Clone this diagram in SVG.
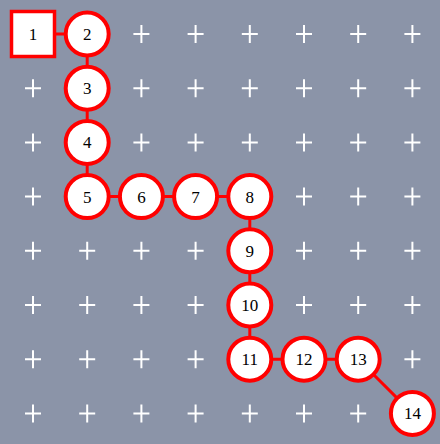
<svg xmlns="http://www.w3.org/2000/svg" width="440" height="444" viewBox="0 0 440 444">
<style>
.n circle{fill:#fff;stroke:#f00;stroke-width:4}
.n rect{fill:#fff;stroke:#f00;stroke-width:3.5}
.n text{font-family:"Liberation Serif",serif;font-size:17px;fill:#000;text-anchor:middle}
.e line{stroke:#f00;stroke-width:3}
</style>
<defs>
<path id="plus" d="M-8 0H8M0 -9V9" stroke="#fff" stroke-width="2" fill="none"/>
</defs>
<rect x="0" y="0" width="440" height="444" fill="#8b94a8"/>
<g id="grid">
<use href="#plus" x="141.4" y="34"/><use href="#plus" x="195.6" y="34"/><use href="#plus" x="249.8" y="34"/><use href="#plus" x="304" y="34"/><use href="#plus" x="358.2" y="34"/><use href="#plus" x="412.4" y="34"/>
<use href="#plus" x="33" y="88.2"/><use href="#plus" x="141.4" y="88.2"/><use href="#plus" x="195.6" y="88.2"/><use href="#plus" x="249.8" y="88.2"/><use href="#plus" x="304" y="88.2"/><use href="#plus" x="358.2" y="88.2"/><use href="#plus" x="412.4" y="88.2"/>
<use href="#plus" x="33" y="142.4"/><use href="#plus" x="141.4" y="142.4"/><use href="#plus" x="195.6" y="142.4"/><use href="#plus" x="249.8" y="142.4"/><use href="#plus" x="304" y="142.4"/><use href="#plus" x="358.2" y="142.4"/><use href="#plus" x="412.4" y="142.4"/>
<use href="#plus" x="33" y="196.6"/><use href="#plus" x="304" y="196.6"/><use href="#plus" x="358.2" y="196.6"/><use href="#plus" x="412.4" y="196.6"/>
<use href="#plus" x="33" y="250.8"/><use href="#plus" x="87.2" y="250.8"/><use href="#plus" x="141.4" y="250.8"/><use href="#plus" x="195.6" y="250.8"/><use href="#plus" x="304" y="250.8"/><use href="#plus" x="358.2" y="250.8"/><use href="#plus" x="412.4" y="250.8"/>
<use href="#plus" x="33" y="305"/><use href="#plus" x="87.2" y="305"/><use href="#plus" x="141.4" y="305"/><use href="#plus" x="195.6" y="305"/><use href="#plus" x="304" y="305"/><use href="#plus" x="358.2" y="305"/><use href="#plus" x="412.4" y="305"/>
<use href="#plus" x="33" y="359.2"/><use href="#plus" x="87.2" y="359.2"/><use href="#plus" x="141.4" y="359.2"/><use href="#plus" x="195.6" y="359.2"/><use href="#plus" x="412.4" y="359.2"/>
<use href="#plus" x="33" y="413.4"/><use href="#plus" x="87.2" y="413.4"/><use href="#plus" x="141.4" y="413.4"/><use href="#plus" x="195.6" y="413.4"/><use href="#plus" x="249.8" y="413.4"/><use href="#plus" x="304" y="413.4"/><use href="#plus" x="358.2" y="413.4"/>
</g>
<g class="e" id="connectors">
<line x1="33" y1="34" x2="87.2" y2="34"/>
<line x1="87.2" y1="34" x2="87.2" y2="196.6"/>
<line x1="87.2" y1="196.6" x2="249.8" y2="196.6"/>
<line x1="249.8" y1="196.6" x2="249.8" y2="359.2"/>
<line x1="249.8" y1="359.2" x2="358.2" y2="359.2"/>
<line x1="358.2" y1="359.2" x2="412.4" y2="413.4"/>
</g>
<g class="n" id="n1"><rect x="11.5" y="11.5" width="43" height="45"/><text x="33" y="40">1</text></g>
<g class="n" id="n2"><circle cx="87.2" cy="34" r="21.5"/><text x="87.2" y="40">2</text></g>
<g class="n" id="n3"><circle cx="87.2" cy="88.2" r="21.5"/><text x="87.2" y="94.2">3</text></g>
<g class="n" id="n4"><circle cx="87.2" cy="142.4" r="21.5"/><text x="87.2" y="148.4">4</text></g>
<g class="n" id="n5"><circle cx="87.2" cy="196.6" r="21.5"/><text x="87.2" y="202.6">5</text></g>
<g class="n" id="n6"><circle cx="141.4" cy="196.6" r="21.5"/><text x="141.4" y="202.6">6</text></g>
<g class="n" id="n7"><circle cx="195.6" cy="196.6" r="21.5"/><text x="195.6" y="202.6">7</text></g>
<g class="n" id="n8"><circle cx="249.8" cy="196.6" r="21.5"/><text x="249.8" y="202.6">8</text></g>
<g class="n" id="n9"><circle cx="249.8" cy="250.8" r="21.5"/><text x="249.8" y="256.8">9</text></g>
<g class="n" id="n10"><circle cx="249.8" cy="305" r="21.5"/><text x="249.8" y="311">10</text></g>
<g class="n" id="n11"><circle cx="249.8" cy="359.2" r="21.5"/><text x="249.8" y="365.2">11</text></g>
<g class="n" id="n12"><circle cx="304" cy="359.2" r="21.5"/><text x="304" y="365.2">12</text></g>
<g class="n" id="n13"><circle cx="358.2" cy="359.2" r="21.5"/><text x="358.2" y="365.2">13</text></g>
<g class="n" id="n14"><circle cx="412.4" cy="413.4" r="21.5"/><text x="412.4" y="419.4">14</text></g>
</svg>
